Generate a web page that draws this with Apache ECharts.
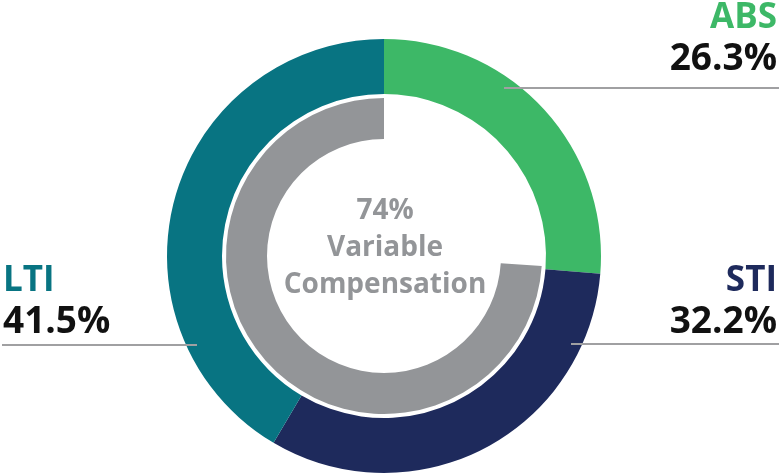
<!DOCTYPE html>
<html><head><meta charset="utf-8">
<script src="https://cdn.jsdelivr.net/npm/echarts@6/dist/echarts.min.js"></script>
<style>html,body{margin:0;padding:0;background:#fff}#c{width:779px;height:476px}</style>
</head><body><div id="c"></div>
<script>
// ---- data ----
const categories = ['ABS', 'STI', 'LTI'];
const shares = [26.3, 32.2, 41.5];
const categoryColors = ['#3db867', '#1e2a5c', '#087482'];
const variableShare = 74;
const otherShare = 26;
const centerLines = ['74%', 'Variable', 'Compensation'];

// ---- layout (label placement) ----
const labelSpots = {
  ABS: { x: 777, y: 79, align: 'right', lineY: 88, lineFrom: 504, lineTo: 779 },
  STI: { x: 777, y: 342, align: 'right', lineY: 344, lineFrom: 571, lineTo: 779 },
  LTI: { x: 3, y: 342, align: 'left', lineY: 345, lineFrom: 2, lineTo: 197 }
};

const chart = echarts.init(document.getElementById('c'), null, { renderer: 'canvas' });
const FONT = '"Open Sans", "Noto Sans", sans-serif';

const outerData = categories.map((name, i) => ({
  name, value: shares[i],
  itemStyle: { color: categoryColors[i] }
}));
const labelData = categories.map((name, i) => ({
  name, value: shares[i],
  itemStyle: { color: 'rgba(0,0,0,0)' },
  label: { rich: { n: { color: categoryColors[i] } } }
}));

chart.setOption({
  animation: false,
  backgroundColor: '#fff',
  series: [
    {
      type: 'pie',
      z: 2,
      center: [384, 256],
      radius: [162, 217],
      startAngle: 90,
      clockwise: true,
      silent: true,
      data: outerData,
      label: { show: false },
      labelLine: { show: false }
    },
    {
      type: 'pie',
      z: 5,
      center: [384, 256],
      radius: [162, 217],
      startAngle: 90,
      clockwise: true,
      silent: true,
      data: labelData,
      label: {
        show: true,
        position: 'outside',
        formatter: p => '{n|' + p.name + '}\n{v|' + p.value + '%}',
        fontFamily: FONT,
        rich: {
          n: { fontFamily: FONT, fontSize: 35, fontWeight: 700, lineHeight: 41 },
          v: { fontFamily: FONT, fontSize: 37, fontWeight: 700, lineHeight: 40, color: '#111111' }
        }
      },
      labelLine: { show: true, lineStyle: { color: '#a0a0a2', width: 2 } },
      labelLayout: function (params) {
        const name = categories[params.dataIndex];
        const s = labelSpots[name];
        return {
          x: s.x, y: s.y, align: s.align, verticalAlign: 'bottom',
          labelLinePoints: [[s.lineFrom, s.lineY], [(s.lineFrom + s.lineTo) / 2, s.lineY], [s.lineTo, s.lineY]]
        };
      }
    },
    {
      type: 'pie',
      z: 2,
      center: [384, 256],
      radius: [117, 158],
      startAngle: 90,
      clockwise: true,
      silent: true,
      label: { show: false },
      labelLine: { show: false },
      data: [
        { name: 'Other', value: otherShare, itemStyle: { color: 'rgba(0,0,0,0)' } },
        { name: 'Variable', value: variableShare, itemStyle: { color: '#939598' } }
      ]
    }
  ],
  graphic: [
    {
      type: 'text',
      x: 385, y: 248,
      style: {
        text: centerLines.join('\n'),
        align: 'center', verticalAlign: 'middle',
        fontFamily: FONT, fontSize: 28, fontWeight: 700,
        lineHeight: 37, fill: '#939598'
      }
    }
  ]
});
</script>
</body></html>
